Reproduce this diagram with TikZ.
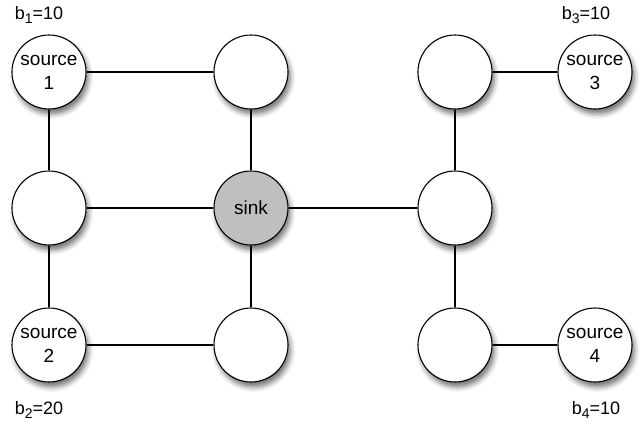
\documentclass[tikz,border=0pt]{standalone}
\usepackage{fontspec}
\setmainfont{Liberation Sans}
\usetikzlibrary{shadows.blur}
\tikzset{
  vertex/.style={circle, draw=black, line width=1.1pt, fill=white,
    minimum size=74pt, inner sep=0pt, align=center,
    font=\fontsize{19}{24}\selectfont,
    blur shadow={shadow xshift=2.5pt, shadow yshift=-5pt, shadow blur radius=5pt, shadow opacity=55}},
  sinkvertex/.style={vertex, fill=black!25},
  link/.style={line width=2pt, black},
  supply/.style={font=\fontsize{18}{20}\selectfont, inner sep=0pt},
}
\newcommand{\bsub}[2]{b\raisebox{-0.45ex}{\fontsize{14}{14}\selectfont #1}=#2}
\begin{document}
\begin{tikzpicture}[x=1pt, y=-1pt]
  \useasboundingbox (0,0) rectangle (644,424);
  % vertices
  \node[vertex] (s1) at (49,72) {source\\1};
  \node[vertex] (t2) at (251,72) {};
  \node[vertex] (t3) at (455,72) {};
  \node[vertex] (s3) at (595,72) {source\\3};
  \node[vertex] (m1) at (49,208) {};
  \node[sinkvertex] (sk) at (251,208) {sink};
  \node[vertex] (m3) at (455,208) {};
  \node[vertex] (s2) at (49,345) {source\\2};
  \node[vertex] (b2) at (251,345) {};
  \node[vertex] (b3) at (455,345) {};
  \node[vertex] (s4) at (595,345) {source\\4};
  % edges
  \draw[link] (s1) -- (t2);
  \draw[link] (s1) -- (m1);
  \draw[link] (t2) -- (sk);
  \draw[link] (m1) -- (sk);
  \draw[link] (sk) -- (m3);
  \draw[link] (m1) -- (s2);
  \draw[link] (sk) -- (b2);
  \draw[link] (s2) -- (b2);
  \draw[link] (t3) -- (s3);
  \draw[link] (t3) -- (m3);
  \draw[link] (m3) -- (b3);
  \draw[link] (b3) -- (s4);
  % supplies
  \node[supply] (l1) at (39,15) {\bsub{1}{10}};
  \node[supply] (l3) at (586,15) {\bsub{3}{10}};
  \node[supply] (l2) at (39,410) {\bsub{2}{20}};
  \node[supply] (l4) at (596,410) {\bsub{4}{10}};
\end{tikzpicture}
\end{document}
